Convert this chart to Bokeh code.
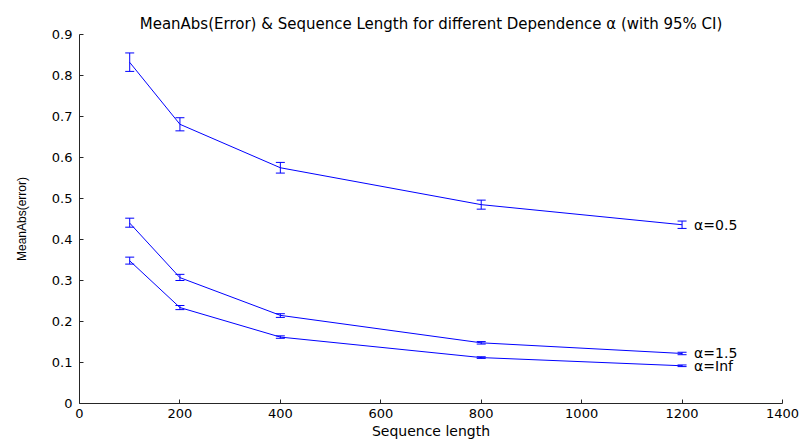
from bokeh.plotting import figure
from bokeh.models import Whisker, TeeHead, ColumnDataSource, FixedTicker, Range1d, Label
from bokeh.embed import file_html
from bokeh.resources import INLINE

seq_len = [100, 200, 400, 800, 1200]

a05_mean = [0.832, 0.681, 0.575, 0.485, 0.436]
a05_lo = [0.810, 0.665, 0.562, 0.474, 0.427]
a05_hi = [0.855, 0.697, 0.588, 0.496, 0.445]

a15_mean = [0.440, 0.307, 0.215, 0.148, 0.122]
a15_lo = [0.430, 0.300, 0.210, 0.145, 0.119]
a15_hi = [0.452, 0.315, 0.219, 0.151, 0.125]

ainf_mean = [0.348, 0.234, 0.162, 0.112, 0.092]
ainf_lo = [0.340, 0.229, 0.159, 0.110, 0.090]
ainf_hi = [0.357, 0.239, 0.165, 0.114, 0.094]

series_names = ["\u03b1=0.5", "\u03b1=1.5", "\u03b1=Inf"]

x_ticks = [0, 200, 400, 600, 800, 1000, 1200, 1400]
y_ticks = [0, 0.1, 0.2, 0.3, 0.4, 0.5, 0.6, 0.7, 0.8, 0.9]
y_tick_labels = ["0", "0.1", "0.2", "0.3", "0.4", "0.5", "0.6", "0.7", "0.8", "0.9"]

FONT = "DejaVu Sans"
BLUE = "#0000ff"
AXC = "#262626"

p = figure(width=807, height=444, output_backend="svg", toolbar_location=None,
           x_range=Range1d(0, 1400), y_range=Range1d(0, 0.9),
           min_border_left=79, min_border_right=25, min_border_top=34, min_border_bottom=41,
           title="MeanAbs(Error) & Sequence Length for different Dependence \u03b1 (with 95% CI)")
p.title.align = "center"
p.title.text_font = FONT
p.title.text_font_size = "15px"
p.title.text_font_style = "normal"
p.title.text_color = "black"
p.title.standoff = 4
p.outline_line_color = None
p.xgrid.visible = False
p.ygrid.visible = False

for ax in (p.xaxis[0], p.yaxis[0]):
    ax.axis_line_color = AXC
    ax.major_tick_line_color = AXC
    ax.major_tick_in = 4
    ax.major_tick_out = 0
    ax.minor_tick_line_color = None
    ax.major_label_text_font = FONT
    ax.major_label_text_font_size = "13px"
    ax.major_label_text_color = "black"
    ax.axis_label_text_font = FONT
    ax.axis_label_text_font_size = "14px"
    ax.axis_label_text_font_style = "normal"
    ax.axis_label_text_color = "black"

p.yaxis.axis_label_text_font = "Liberation Sans"
p.yaxis.axis_label_text_font_size = "12px"

p.xaxis.ticker = FixedTicker(ticks=x_ticks)
p.yaxis.ticker = FixedTicker(ticks=y_ticks)
p.yaxis.major_label_overrides = dict(zip(y_ticks, y_tick_labels))
p.xaxis.axis_label = "Sequence length"
p.yaxis.axis_label = "MeanAbs(error)"
p.xaxis.major_label_standoff = 5
p.xaxis.axis_label_standoff = 2
p.yaxis.major_label_standoff = 7
p.yaxis.axis_label_standoff = 20

for name, m, lo, hi in zip(series_names,
                           [a05_mean, a15_mean, ainf_mean],
                           [a05_lo, a15_lo, ainf_lo],
                           [a05_hi, a15_hi, ainf_hi]):
    src = ColumnDataSource(dict(x=seq_len, y=m, lo=lo, hi=hi))
    p.line("x", "y", source=src, line_color=BLUE, line_width=1)
    w = Whisker(base="x", lower="lo", upper="hi", source=src, dimension="height",
                line_color=BLUE, line_width=1,
                upper_head=TeeHead(size=9, line_color=BLUE, line_width=1),
                lower_head=TeeHead(size=9, line_color=BLUE, line_width=1))
    p.add_layout(w)
    p.add_layout(Label(x=seq_len[-1], y=m[-1], text=name, x_offset=12,
                       text_baseline="middle", text_font=FONT, text_font_size="14px",
                       text_color="black"))

open("out.html", "w").write(file_html(p, INLINE))
